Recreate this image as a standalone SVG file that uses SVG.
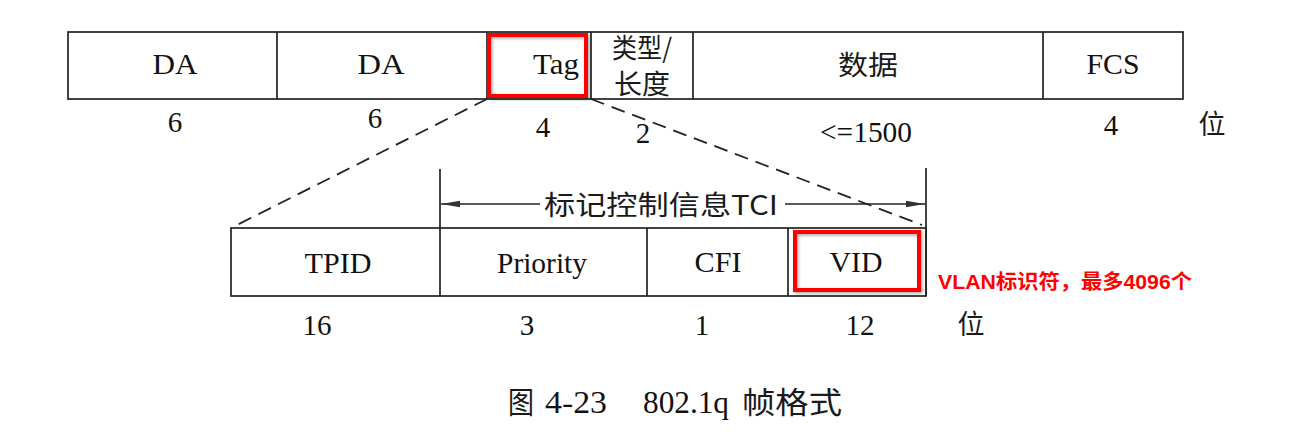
<svg xmlns="http://www.w3.org/2000/svg" width="1293" height="438" viewBox="0 0 1293 438">
  <defs>
    <style>
      .box { fill: #ffffff; stroke: #222222; stroke-width: 1.7; }
      .div { stroke: #222222; stroke-width: 1.7; fill: none; }
      .dash { stroke: #222222; stroke-width: 1.8; fill: none; stroke-dasharray: 14 8; }
      .lat { font-family: "Liberation Serif", "Times New Roman", serif; font-size: 29px; fill: #111111; text-anchor: middle; }
      .cjk { font-family: "Noto Sans CJK SC", "Noto Sans", sans-serif; font-size: 27px; fill: #1a1a1a; text-anchor: middle; }
      .hl { fill: none; stroke: #ff0000; stroke-width: 4; }
      .note { font-family: "Liberation Sans", Arial, "Noto Sans CJK SC", sans-serif; font-weight: bold; font-size: 20px; fill: #ff0000; }
      .cap { font-family: "Liberation Serif", "Times New Roman", serif; font-size: 32px; fill: #111111; }
      .capc { font-family: "Noto Sans CJK SC", sans-serif; font-size: 30px; fill: #1a1a1a; }
    </style>
    <marker id="arr" markerWidth="20" markerHeight="8" refX="19" refY="4" orient="auto-start-reverse" markerUnits="userSpaceOnUse">
      <path d="M0,0.8 L19,4 L0,7.2 Z" fill="#333333"/>
    </marker>
    <filter id="sh" x="-10%" y="-10%" width="130%" height="130%">
      <feDropShadow dx="1.5" dy="1.5" stdDeviation="1.5" flood-color="#000000" flood-opacity="0.35"/>
    </filter>
  </defs>
  <rect width="1293" height="438" fill="#ffffff"/>

  <!-- Top frame row -->
  <g id="top-row">
    <rect class="box" x="68" y="32" width="1115" height="67"/>
    <line class="div" x1="277" y1="32" x2="277" y2="99"/>
    <line class="div" x1="487" y1="32" x2="487" y2="99"/>
    <line class="div" x1="591" y1="32" x2="591" y2="99"/>
    <line class="div" x1="693" y1="32" x2="693" y2="99"/>
    <line class="div" x1="1043" y1="32" x2="1043" y2="99"/>
  </g>
  <g id="node-da1"><text class="lat" x="175" y="74" textLength="45" lengthAdjust="spacingAndGlyphs">DA</text></g>
  <g id="node-da2"><text class="lat" x="381" y="74" textLength="47" lengthAdjust="spacingAndGlyphs">DA</text></g>
  <g id="node-tag">
    <text class="lat" x="556" y="74" textLength="46" lengthAdjust="spacingAndGlyphs">Tag</text>
    <rect class="hl" x="489" y="35" width="97" height="61" filter="url(#sh)"/>
  </g>
  <g id="node-type">
    <text class="cjk" x="642" y="58" font-size="24" textLength="60" lengthAdjust="spacingAndGlyphs">类型/</text>
    <text class="cjk" x="642" y="94" font-size="24" textLength="56" lengthAdjust="spacingAndGlyphs">长度</text>
  </g>
  <g id="node-data"><text class="cjk" x="868" y="75" font-size="29" textLength="60" lengthAdjust="spacingAndGlyphs">数据</text></g>
  <g id="node-fcs"><text class="lat" x="1113" y="74" textLength="53" lengthAdjust="spacingAndGlyphs">FCS</text></g>

  <!-- Top sizes -->
  <g id="top-sizes">
    <text class="lat" x="175" y="132">6</text>
    <text class="lat" x="375" y="128">6</text>
    <text class="lat" x="543" y="137">4</text>
    <text class="lat" x="643" y="143">2</text>
    <text class="lat" x="866" y="142" textLength="92" lengthAdjust="spacingAndGlyphs">&lt;=1500</text>
    <text class="lat" x="1111" y="135">4</text>
    <text class="cjk" x="1212" y="134" font-size="28">位</text>
  </g>

  <!-- Bottom tag row -->
  <g id="bottom-row">
    <rect class="box" x="231" y="228" width="695" height="68"/>
    <line class="div" x1="647" y1="228" x2="647" y2="296"/>
    <line class="div" x1="788" y1="228" x2="788" y2="296"/>
  </g>
  <g id="node-tpid"><text class="lat" x="338" y="273" textLength="67" lengthAdjust="spacingAndGlyphs">TPID</text></g>
  <g id="node-priority"><text class="lat" x="542" y="273" textLength="90" lengthAdjust="spacingAndGlyphs">Priority</text></g>
  <g id="node-cfi"><text class="lat" x="718" y="272" textLength="47" lengthAdjust="spacingAndGlyphs">CFI</text></g>
  <g id="node-vid">
    <text class="lat" x="856" y="272" textLength="53" lengthAdjust="spacingAndGlyphs">VID</text>
    <rect class="hl" x="795" y="232" width="124" height="58" filter="url(#sh)"/>
  </g>
  <g id="node-note"><text class="note" x="938" y="289" textLength="254" lengthAdjust="spacingAndGlyphs">VLAN标识符，最多4096个</text></g>

  <!-- Bottom sizes -->
  <g id="bottom-sizes">
    <text class="lat" x="317" y="335">16</text>
    <text class="lat" x="527" y="335">3</text>
    <text class="lat" x="702" y="335">1</text>
    <text class="lat" x="860" y="335">12</text>
    <text class="cjk" x="971" y="334" font-size="28">位</text>
  </g>

  <!-- Connectors -->
  <g id="connectors">
    <line class="dash" x1="487" y1="99" x2="231" y2="228"/>
    <line class="dash" x1="591" y1="99" x2="922" y2="225"/>
    <line class="div" x1="440" y1="169" x2="440" y2="296"/>
    <line class="div" x1="926" y1="168" x2="926" y2="296"/>
    <line class="div" x1="540" y1="204" x2="441" y2="204" marker-end="url(#arr)"/>
    <line class="div" x1="785" y1="204" x2="925" y2="204" marker-end="url(#arr)"/>
  </g>
  <g id="node-tci"><text class="cjk" x="661" y="215" font-size="28" textLength="234" lengthAdjust="spacingAndGlyphs">标记控制信息TCI</text></g>

  <!-- Caption -->
  <g id="caption">
    <text class="capc" x="508" y="413" textLength="26" lengthAdjust="spacingAndGlyphs">图</text>
    <text class="cap" x="545" y="413" textLength="62" lengthAdjust="spacingAndGlyphs">4-23</text>
    <text class="cap" x="643" y="413" textLength="86" lengthAdjust="spacingAndGlyphs">802.1q</text>
    <text class="capc" x="742" y="413" textLength="100" lengthAdjust="spacingAndGlyphs">帧格式</text>
  </g>
</svg>
